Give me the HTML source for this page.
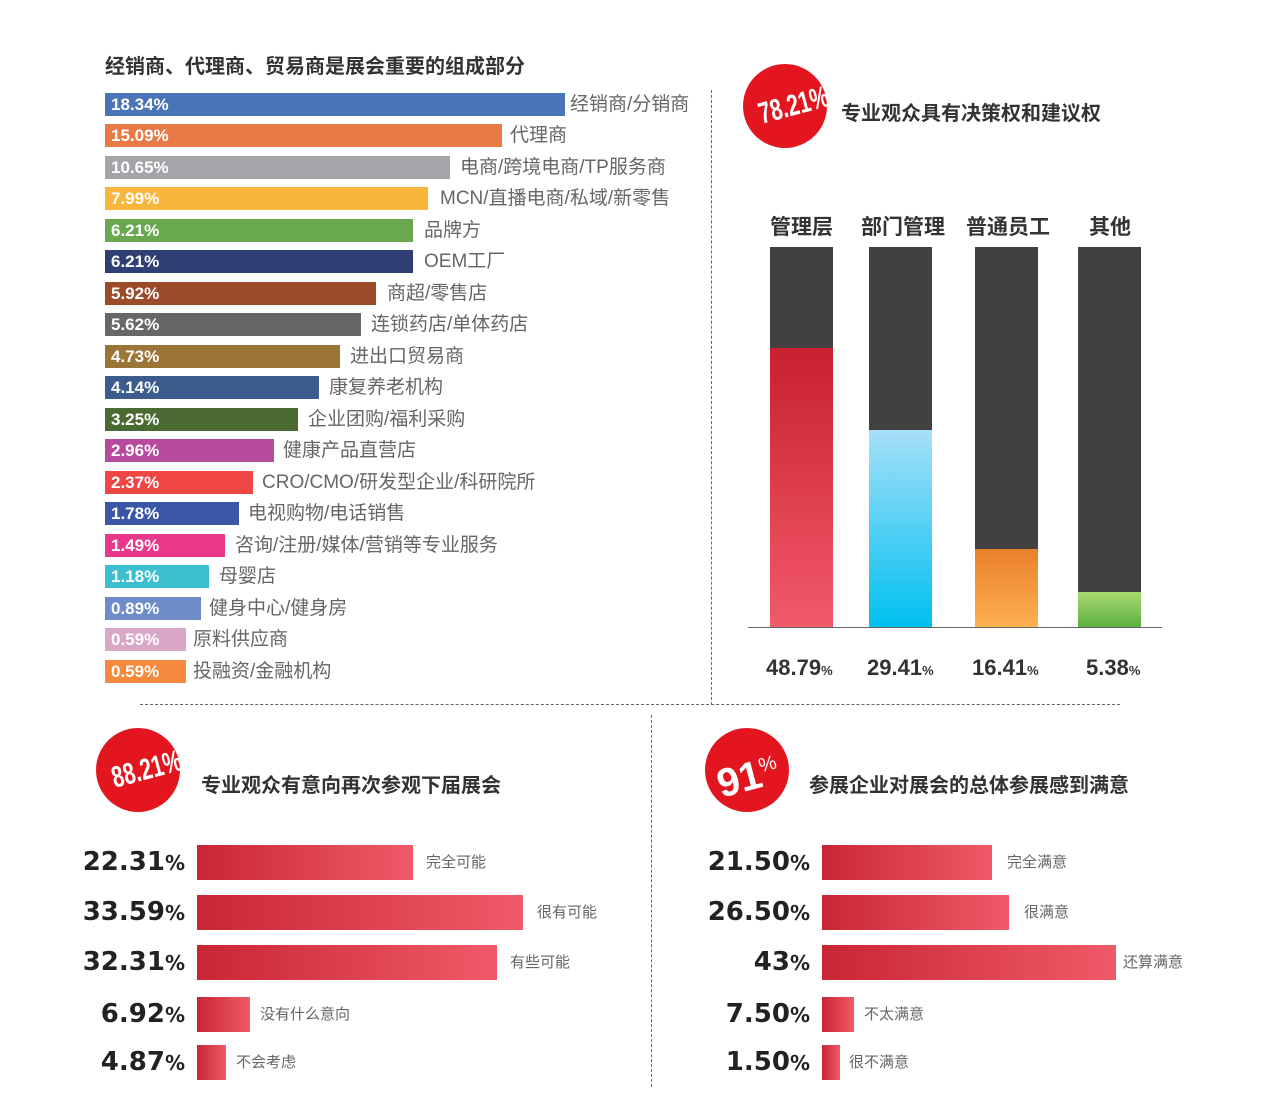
<!DOCTYPE html>
<html><head><meta charset="utf-8"><style>
body{margin:0;width:1276px;height:1107px;background:#fff;position:relative;overflow:hidden;font-family:"Liberation Sans","Noto Sans CJK SC",sans-serif}
div{position:absolute}
.t{font-weight:bold;color:#333;font-size:20px;white-space:nowrap}
.b{left:105px;height:23px}
.v{left:111px;color:#fff;font-weight:bold;font-size:17px;line-height:23px}
.l{color:#666;font-size:19px;line-height:23px;white-space:nowrap}
.c{width:63px}
.circ{width:84px;height:84px;border-radius:50%;background:#e3161f;color:#fff;font-weight:bold;text-align:center;line-height:84px;font-size:30px}
.rb{height:35px;background:linear-gradient(90deg,#c92633,#f05a68)}
.rv{width:150px;text-align:right;font-weight:bold;font-size:26px;color:#222;line-height:35px;font-family:"DejaVu Sans",sans-serif}
.rl{color:#666;font-size:15px;line-height:35px;white-space:nowrap}
.cat{font-weight:bold;font-size:21px;color:#333;white-space:nowrap}
.pv{font-weight:bold;font-size:22px;color:#333;white-space:nowrap}
</style></head><body>
<div class="t" style="left:105px;top:50px">经销商、代理商、贸易商是展会重要的组成部分</div>

<div class="b" style="top:93px;width:460px;background:#4a74b8"></div><div class="v" style="top:93px">18.34%</div><div class="l" style="left:570px;top:93px">经销商/分销商</div>
<div class="b" style="top:124px;width:397px;background:#e87b45"></div><div class="v" style="top:124px">15.09%</div><div class="l" style="left:510px;top:124px">代理商</div>
<div class="b" style="top:156px;width:345px;background:#a5a4a9"></div><div class="v" style="top:156px">10.65%</div><div class="l" style="left:460px;top:156px">电商/跨境电商/TP服务商</div>
<div class="b" style="top:187px;width:323px;background:#f8b63d"></div><div class="v" style="top:187px">7.99%</div><div class="l" style="left:440px;top:187px">MCN/直播电商/私域/新零售</div>
<div class="b" style="top:219px;width:308px;background:#6aa84f"></div><div class="v" style="top:219px">6.21%</div><div class="l" style="left:424px;top:219px">品牌方</div>
<div class="b" style="top:250px;width:308px;background:#2f3f73"></div><div class="v" style="top:250px">6.21%</div><div class="l" style="left:424px;top:250px">OEM工厂</div>
<div class="b" style="top:282px;width:271px;background:#9b4a2a"></div><div class="v" style="top:282px">5.92%</div><div class="l" style="left:387px;top:282px">商超/零售店</div>
<div class="b" style="top:313px;width:256px;background:#666769"></div><div class="v" style="top:313px">5.62%</div><div class="l" style="left:371px;top:313px">连锁药店/单体药店</div>
<div class="b" style="top:345px;width:235px;background:#9a7535"></div><div class="v" style="top:345px">4.73%</div><div class="l" style="left:350px;top:345px">进出口贸易商</div>
<div class="b" style="top:376px;width:214px;background:#3c5c8e"></div><div class="v" style="top:376px">4.14%</div><div class="l" style="left:329px;top:376px">康复养老机构</div>
<div class="b" style="top:408px;width:193px;background:#4a6a32"></div><div class="v" style="top:408px">3.25%</div><div class="l" style="left:308px;top:408px">企业团购/福利采购</div>
<div class="b" style="top:439px;width:169px;background:#b84a9e"></div><div class="v" style="top:439px">2.96%</div><div class="l" style="left:283px;top:439px">健康产品直营店</div>
<div class="b" style="top:471px;width:148px;background:#ee4545"></div><div class="v" style="top:471px">2.37%</div><div class="l" style="left:262px;top:471px">CRO/CMO/研发型企业/科研院所</div>
<div class="b" style="top:502px;width:134px;background:#3a56a6"></div><div class="v" style="top:502px">1.78%</div><div class="l" style="left:248px;top:502px">电视购物/电话销售</div>
<div class="b" style="top:534px;width:120px;background:#e9378a"></div><div class="v" style="top:534px">1.49%</div><div class="l" style="left:235px;top:534px">咨询/注册/媒体/营销等专业服务</div>
<div class="b" style="top:565px;width:104px;background:#3bbfd0"></div><div class="v" style="top:565px">1.18%</div><div class="l" style="left:219px;top:565px">母婴店</div>
<div class="b" style="top:597px;width:96px;background:#6d8cc8"></div><div class="v" style="top:597px">0.89%</div><div class="l" style="left:209px;top:597px">健身中心/健身房</div>
<div class="b" style="top:628px;width:81px;background:#d9a7c7"></div><div class="v" style="top:628px">0.59%</div><div class="l" style="left:193px;top:628px">原料供应商</div>
<div class="b" style="top:660px;width:81px;background:#f58a3e"></div><div class="v" style="top:660px">0.59%</div><div class="l" style="left:193px;top:660px">投融资/金融机构</div>

<div style="left:711px;top:90px;height:615px;border-left:1px dashed #666"></div>
<div style="left:140px;top:704px;width:980px;border-top:1px dashed #666"></div>
<div style="left:651px;top:715px;height:372px;border-left:1px dashed #666"></div>

<div class="circ" style="left:743px;top:64px;font-size:30px"><span style="display:inline-block;transform:rotate(-15deg) scaleX(.7)">78.21%</span></div>
<div class="t" style="left:841px;top:97px">专业观众具有决策权和建议权</div>
<div class="cat" style="left:770px;top:211px">管理层</div>
<div class="cat" style="left:861px;top:211px">部门管理</div>
<div class="cat" style="left:966px;top:211px">普通员工</div>
<div class="cat" style="left:1089px;top:211px">其他</div>
<div class="c" style="left:770px;top:247px;height:380px;background:#434042"></div>
<div class="c" style="left:869px;top:247px;height:380px;background:#434042"></div>
<div class="c" style="left:975px;top:247px;height:380px;background:#434042"></div>
<div class="c" style="left:1078px;top:247px;height:380px;background:#434042"></div>
<div class="c" style="left:770px;top:348px;height:279px;background:linear-gradient(#c8202e,#f25a6a)"></div>
<div class="c" style="left:869px;top:430px;height:197px;background:linear-gradient(#a6e0f8,#00c0f0)"></div>
<div class="c" style="left:975px;top:549px;height:78px;background:linear-gradient(#e8802a,#ffb050)"></div>
<div class="c" style="left:1078px;top:592px;height:35px;background:linear-gradient(#a8d870,#5cb040)"></div>
<div style="left:748px;top:627px;width:414px;border-top:1px solid #666"></div>
<div class="pv" style="left:766px;top:655px">48.79<small style="font-size:13px">%</small></div>
<div class="pv" style="left:867px;top:655px">29.41<small style="font-size:13px">%</small></div>
<div class="pv" style="left:972px;top:655px">16.41<small style="font-size:13px">%</small></div>
<div class="pv" style="left:1086px;top:655px">5.38<small style="font-size:13px">%</small></div>

<div class="circ" style="left:96px;top:728px;font-size:30px"><span style="display:inline-block;transform:rotate(-15deg) scaleX(.7)">88.21%</span></div>
<div class="t" style="left:201px;top:769px">专业观众有意向再次参观下届展会</div>
<div class="circ" style="left:705px;top:728px;font-size:40px"><span style="display:inline-block;transform:rotate(-15deg)">91<sup style="font-size:20px;font-weight:normal">%</sup></span></div>
<div class="t" style="left:809px;top:769px">参展企业对展会的总体参展感到满意</div>

<div class="rv" style="left:35px;top:845px">22.31<span style="font-size:20px">%</span></div><div class="rb" style="left:197px;top:845px;width:216px"></div><div class="rl" style="left:426px;top:845px">完全可能</div>
<div class="rv" style="left:35px;top:895px">33.59<span style="font-size:20px">%</span></div><div class="rb" style="left:197px;top:895px;width:326px"></div><div class="rl" style="left:537px;top:895px">很有可能</div>
<div class="rv" style="left:35px;top:945px">32.31<span style="font-size:20px">%</span></div><div class="rb" style="left:197px;top:945px;width:300px"></div><div class="rl" style="left:510px;top:945px">有些可能</div>
<div class="rv" style="left:35px;top:997px">6.92<span style="font-size:20px">%</span></div><div class="rb" style="left:197px;top:997px;width:53px"></div><div class="rl" style="left:260px;top:997px">没有什么意向</div>
<div class="rv" style="left:35px;top:1045px">4.87<span style="font-size:20px">%</span></div><div class="rb" style="left:197px;top:1045px;width:29px"></div><div class="rl" style="left:236px;top:1045px">不会考虑</div>

<div class="rv" style="left:660px;top:845px">21.50<span style="font-size:20px">%</span></div><div class="rb" style="left:822px;top:845px;width:170px"></div><div class="rl" style="left:1007px;top:845px">完全满意</div>
<div class="rv" style="left:660px;top:895px">26.50<span style="font-size:20px">%</span></div><div class="rb" style="left:822px;top:895px;width:187px"></div><div class="rl" style="left:1024px;top:895px">很满意</div>
<div class="rv" style="left:660px;top:945px">43<span style="font-size:20px">%</span></div><div class="rb" style="left:822px;top:945px;width:294px"></div><div class="rl" style="left:1123px;top:945px">还算满意</div>
<div class="rv" style="left:660px;top:997px">7.50<span style="font-size:20px">%</span></div><div class="rb" style="left:822px;top:997px;width:32px"></div><div class="rl" style="left:864px;top:997px">不太满意</div>
<div class="rv" style="left:660px;top:1045px">1.50<span style="font-size:20px">%</span></div><div class="rb" style="left:822px;top:1045px;width:18px"></div><div class="rl" style="left:849px;top:1045px">很不满意</div>
</body></html>
